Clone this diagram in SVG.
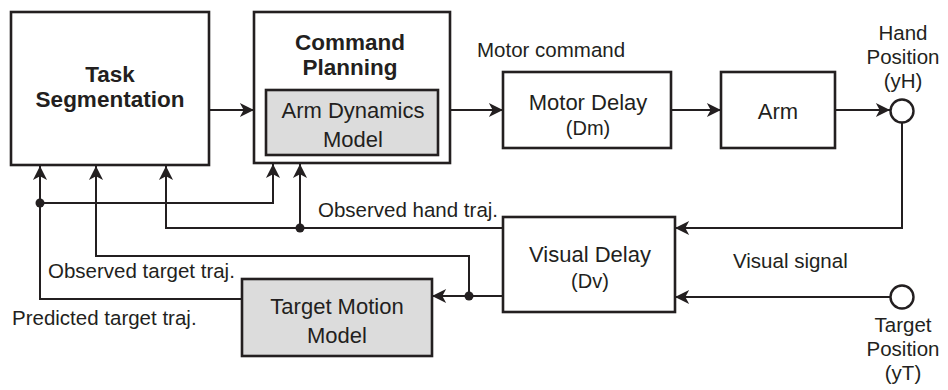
<svg xmlns="http://www.w3.org/2000/svg" width="948" height="390" viewBox="0 0 948 390">
<defs>
<marker id="ah" markerUnits="userSpaceOnUse" markerWidth="16" markerHeight="16" viewBox="-1 -8 17 16" refX="15" refY="0" orient="auto">
<path d="M0,-7.5 L15,0 L0,7.5 L4,0 Z" fill="#231f20"/>
</marker>
</defs>
<style>
.box{fill:#fff;stroke:#231f20;stroke-width:2.6}
.gray{fill:#dcdcdc;stroke:#231f20;stroke-width:2.6}
.ln{fill:none;stroke:#231f20;stroke-width:2}
.arr{marker-end:url(#ah)}
.dot{fill:#231f20}
.circ{fill:#fff;stroke:#231f20;stroke-width:2.4}
text{font-family:"Liberation Sans",Arial,sans-serif;fill:#231f20}
.b{font-weight:bold;font-size:22.5px;text-anchor:middle}
.t{font-size:22px;text-anchor:middle}
.s{font-size:20px;text-anchor:middle}
.l{font-size:20.5px}
.lc{font-size:20.5px;text-anchor:middle}
</style>
<g id="connectors">
<path class="ln arr" d="M209,110 H254"/>
<path class="ln arr" d="M450,110 H503"/>
<path class="ln arr" d="M671,110 H721"/>
<path class="ln arr" d="M835,110 H890"/>
<path class="ln arr" d="M902,123 V228 H675"/>
<path class="ln arr" d="M890,297 H675"/>
<path class="ln arr" d="M503,228 H166 V166"/>
<path class="ln arr" d="M300,228 V164"/>
<path class="ln arr" d="M503,296 H432"/>
<path class="ln arr" d="M469,296 V256 H96 V166"/>
<path class="ln arr" d="M242,299 H40 V166"/>
<path class="ln arr" d="M40,203 H273 V164"/>
<circle class="dot" cx="300" cy="228" r="4.5"/>
<circle class="dot" cx="469" cy="296" r="4.5"/>
<circle class="dot" cx="40" cy="203" r="4.5"/>
</g>
<g id="task-segmentation">
<rect class="box" x="11" y="12" width="198" height="153"/>
<text class="b" x="110" y="82">Task</text>
<text class="b" x="110" y="107">Segmentation</text>
</g>
<g id="command-planning">
<rect class="box" x="254" y="12" width="196" height="151"/>
<text class="b" x="350" y="50">Command</text>
<text class="b" x="350" y="75">Planning</text>
</g>
<g id="arm-dynamics-model">
<rect class="gray" x="266" y="90" width="172" height="65"/>
<text class="t" x="353" y="118">Arm Dynamics</text>
<text class="t" x="353" y="147">Model</text>
</g>
<g id="motor-delay">
<rect class="box" x="503" y="72" width="168" height="76"/>
<text class="t" x="588" y="110">Motor Delay</text>
<text class="s" x="588" y="135">(Dm)</text>
</g>
<g id="arm">
<rect class="box" x="721" y="72" width="114" height="76"/>
<text class="t" x="778" y="119">Arm</text>
</g>
<g id="hand-position">
<circle class="circ" cx="902" cy="111" r="11.5"/>
<text class="lc" x="903" y="40">Hand</text>
<text class="lc" x="903" y="64">Position</text>
<text class="lc" x="903" y="88">(yH)</text>
</g>
<g id="visual-delay">
<rect class="box" x="503" y="217" width="172" height="95"/>
<text class="t" x="590" y="262">Visual Delay</text>
<text class="s" x="590" y="288">(Dv)</text>
</g>
<g id="target-position">
<circle class="circ" cx="902" cy="297" r="11.5"/>
<text class="lc" x="903" y="332">Target</text>
<text class="lc" x="903" y="356">Position</text>
<text class="lc" x="903" y="380">(yT)</text>
</g>
<g id="target-motion-model">
<rect class="gray" x="242" y="279" width="190" height="77"/>
<text class="t" x="337" y="314">Target Motion</text>
<text class="t" x="337" y="343">Model</text>
</g>
<g id="labels">
<text class="l" x="477" y="57">Motor command</text>
<text class="l" x="318" y="217">Observed hand traj.</text>
<text class="l" x="733" y="268">Visual signal</text>
<text class="l" x="48" y="278">Observed target traj.</text>
<text class="l" x="12" y="325">Predicted target traj.</text>
</g>
</svg>
